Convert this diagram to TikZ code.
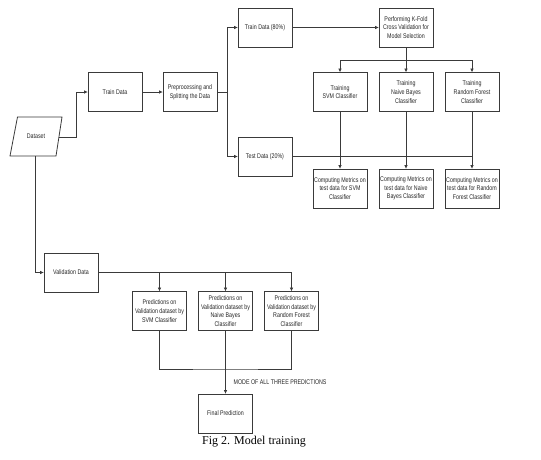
\documentclass[tikz,border=0pt]{standalone}
\usepackage{fontspec}
\setmainfont{Liberation Serif}
\newfontfamily\boxfont[FakeStretch=0.78]{Liberation Sans}
\usetikzlibrary{arrows.meta}
\definecolor{linec}{HTML}{3A3A3A}
\begin{document}
\begin{tikzpicture}[x=1pt,y=-1pt,
  box/.style={draw=linec,line width=0.8pt,minimum width=54pt,minimum height=39pt,inner sep=0pt,
    align=center,font=\boxfont\fontsize{6.8}{8.7}\selectfont,text=black!85},
  conn/.style={draw=linec,line width=0.75pt},
  arr/.style={conn,-{Triangle[length=3.5pt,width=3pt]}},
  lbl/.style={font=\boxfont\fontsize{6.8}{8.7}\selectfont,text=black!85,inner sep=0pt}]
\useasboundingbox (0,0) rectangle (541,459);
% Dataset parallelogram
\draw[linec,line width=0.8pt] (17.5,117) -- (62,117) -- (56,156) -- (10,156) -- cycle;
\node[lbl] (dataset) at (36,136.5) {Dataset};
\coordinate (dsr) at (59,137);
\coordinate (dsb) at (35,156);
% top row
\node[box] (train) at (115,92) {Train Data};
\node[box] (prep) at (190,92) {Preprocessing and\\Splitting the Data};
\node[box] (tr80) at (265,27.5) {Train Data (80\%)};
\node[box] (te20) at (265,156.5) {Test Data (20\%)};
\node[box] (kfold) at (406,27.5) {Performing K-Fold\\Cross Validation for\\Model Selection};
\node[box] (tsvm) at (340,92) {Training\\SVM Classifier};
\node[box] (tnb) at (406,92) {Training\\Naive Bayes\\Classifier};
\node[box] (trf) at (472,92) {Training\\Random Forest\\Classifier};
\node[box] (msvm) at (340,188.5) {Computing Metrics on\\test data for SVM\\Classifier};
\node[box] (mnb) at (406,188.5) {Computing Metrics on\\test data for Naive\\Bayes Classifier};
\node[box] (mrf) at (472,188.5) {Computing Metrics on\\test data for Random\\Forest Classifier};
% bottom
\node[box] (val) at (71,272.5) {Validation Data};
\node[box] (psvm) at (159.5,311) {Predictions on\\Validation dataset by\\SVM Classifier};
\node[box] (pnb) at (225.5,311) {Predictions on\\Validation dataset by\\Naive Bayes\\Classifier};
\node[box] (prf) at (291.5,311) {Predictions on\\Validation dataset by\\Random Forest\\Classifier};
\node[box] (final) at (225.5,413.5) {Final Prediction};
\node[lbl,anchor=west] (mode) at (233.5,382) {MODE OF ALL THREE PREDICTIONS};
\node[inner sep=0pt,font=\fontsize{12}{14}\selectfont] (cap) at (254,442) {Fig 2. Model training};
% connectors
\draw[arr] (dsr) -- (76,137) |- (train.west);
\draw[arr] (train.east) -- (prep.west);
\coordinate (split) at (227,92);
\draw[conn] (prep.east) -- (split);
\draw[arr] (split) |- (tr80.west);
\draw[arr] (split) |- (te20.west);
\draw[arr] (tr80.east) -- (kfold.west);
\coordinate (kbar) at (406,60);
\draw[conn] (kfold.south) -- (kbar);
\draw[arr] (kbar) -| (tsvm.north);
\draw[arr] (kbar) -| (trf.north);
\draw[arr] (kbar) -- (tnb.north);
\draw[arr] (tsvm.south) -- (msvm.north);
\draw[arr] (tnb.south) -- (mnb.north);
\draw[arr] (trf.south) -- (mrf.north);
\draw[conn] (te20.east) -- (te20.east -| trf.south);
\draw[arr] (dsb) |- (val.west);
\draw[conn] (val.east) -- (val.east -| prf.north);
\draw[arr] (val.east -| psvm.north) -- (psvm.north);
\draw[arr] (val.east -| pnb.north) -- (pnb.north);
\draw[arr] (val.east -| prf.north) -- (prf.north);
\coordinate (jn) at (225.5,369);
\draw[conn] (psvm.south) |- (jn) -| (prf.south);
\draw[arr] (pnb.south) -- (final.north);
\end{tikzpicture}
\end{document}
